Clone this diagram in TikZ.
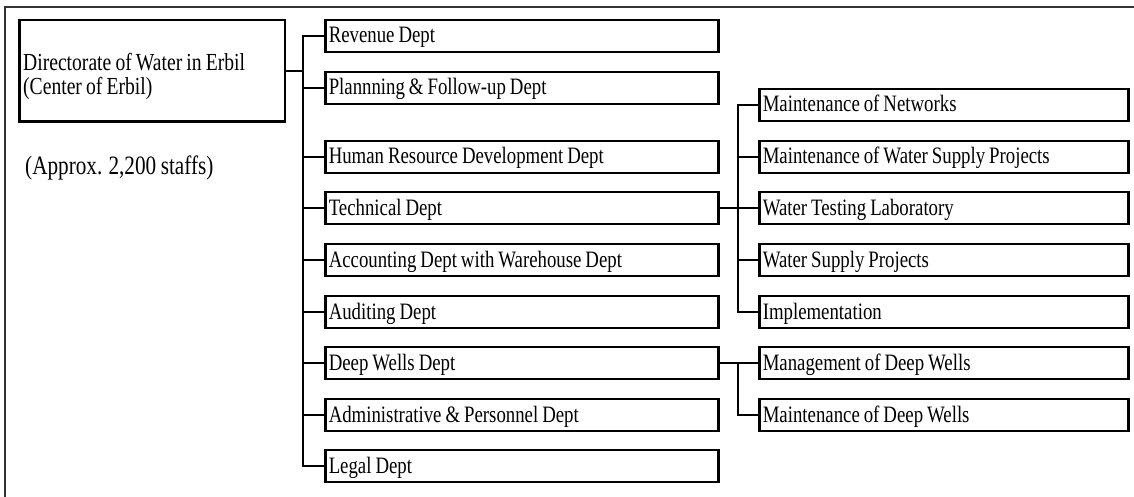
\documentclass[tikz,border=0pt]{standalone}
\usepackage{fontspec}
\setmainfont{Liberation Serif}[FakeStretch=0.8, WordSpace=0.85]
\newcommand{\lblfont}{\fontsize{23.5}{26}\selectfont}
\newcommand{\dirfont}{\fontsize{24.5}{26}\selectfont}
\newcommand{\apxfont}{\fontsize{26.5}{28}\selectfont}
\newcommand{\lbL}[1]{\makebox[386pt][l]{#1}}
\newcommand{\lbR}[1]{\makebox[362pt][l]{#1}}
\tikzset{
  dboxL/.style={draw, line width=2.5pt, anchor=west, minimum height=32pt,
    inner xsep=3.5pt, inner ysep=0pt,
    text height=16pt, text depth=2pt, font=\lblfont},
  dboxR/.style={dboxL},
  mainbox/.style={draw, line width=2.5pt, minimum width=265.5pt, minimum height=101.5pt, inner sep=0pt},
  conn/.style={line width=2pt},
  frame/.style={line width=1.3pt, draw=black!80},
  plain/.style={anchor=base west, inner sep=0pt}
}
\begin{document}
\begin{tikzpicture}[x=1pt,y=-1pt]
\useasboundingbox (0,0) rectangle (1134,497);
\draw[frame] (1134,7) -- (5,7) -- (5,497);

\node[mainbox] (dir) at (152,71) {};
\node[plain, font=\dirfont] (dirt1) at (23,71) {Directorate of Water in Erbil};
\node[plain, font=\dirfont] (dirt2) at (23,95) {(Center of Erbil)};
\node[plain, font=\apxfont] (apx) at (25,175) {(Approx. 2,200 staffs)};

\node[dboxL] (rev)   at (324,36)  {\lbL{Revenue Dept}};
\node[dboxL] (plan)  at (324,88)  {\lbL{Plannning \& Follow-up Dept}};
\node[dboxL] (hr)    at (324,157) {\lbL{Human Resource Development Dept}};
\node[dboxL] (tech)  at (324,208) {\lbL{Technical Dept}};
\node[dboxL] (acc)   at (324,260) {\lbL{Accounting Dept with Warehouse Dept}};
\node[dboxL] (aud)   at (324,312) {\lbL{Auditing Dept}};
\node[dboxL] (deep)  at (324,363) {\lbL{Deep Wells Dept}};
\node[dboxL] (adm)   at (324,415) {\lbL{Administrative \& Personnel Dept}};
\node[dboxL] (legal) at (324,466) {\lbL{Legal Dept}};

\node[dboxR] (net)   at (758,105) {\lbR{Maintenance of Networks}};
\node[dboxR] (mwsp)  at (758,157) {\lbR{Maintenance of Water Supply Projects}};
\node[dboxR] (wtl)   at (758,208) {\lbR{Water Testing Laboratory}};
\node[dboxR] (wsp)   at (758,260) {\lbR{Water Supply Projects}};
\node[dboxR] (impl)  at (758,312) {\lbR{Implementation}};
\node[dboxR] (mgdw)  at (758,363) {\lbR{Management of Deep Wells}};
\node[dboxR] (mtdw)  at (758,415) {\lbR{Maintenance of Deep Wells}};

\coordinate (bus) at ([xshift=-21pt]rev.west);

\draw[conn] (dir.east) -- (dir.east -| bus);
\draw[conn] (rev.west) -| ([xshift=-21pt]legal.west) -- (legal.west);
\foreach \n in {plan,hr,tech,acc,aud,deep,adm}
  \draw[conn] (\n.west) -- ++(-21pt,0);

\draw[conn] (tech.east) -- (wtl.west);
\draw[conn] (net.west) -| ([xshift=-20pt]impl.west) -- (impl.west);
\foreach \n in {mwsp,wsp}
  \draw[conn] (\n.west) -- ++(-20pt,0);

\draw[conn] (deep.east) -- (mgdw.west);
\draw[conn] ([xshift=-20pt]mgdw.west) |- (mtdw.west);
\end{tikzpicture}
\end{document}
